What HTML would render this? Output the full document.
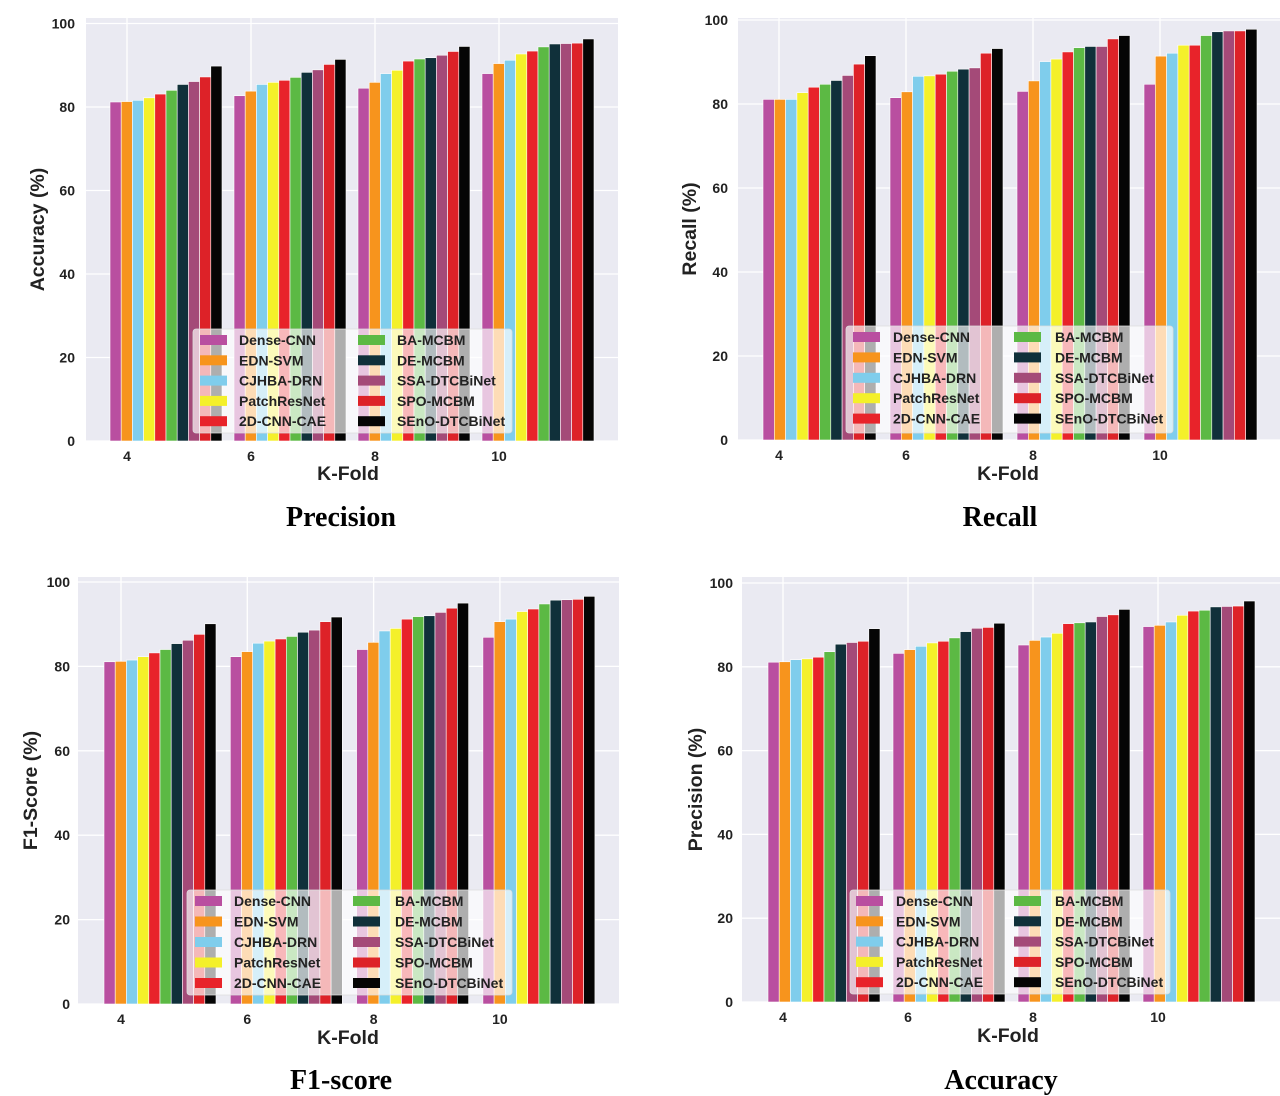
<!DOCTYPE html>
<html><head><meta charset="utf-8">
<style>
html,body{margin:0;padding:0;background:#fff;}
svg{display:block;font-family:"Liberation Sans",Arial,sans-serif;}
.tick{font-size:14px;font-weight:bold;fill:#222;}
.axl{font-size:19.5px;font-weight:bold;fill:#222;}
.ttl{font-family:"Liberation Serif","Times New Roman",serif;font-size:28px;font-weight:bold;fill:#000;}
.leg{font-size:14px;font-weight:bold;fill:#222;}
</style></head>
<body>
<svg id="root" width="1280" height="1096" viewBox="0 0 1280 1096"></svg>
<script>
const categories = ["4","6","8","10"];
const seriesNames = ["Dense-CNN","EDN-SVM","CJHBA-DRN","PatchResNet","2D-CNN-CAE","BA-MCBM","DE-MCBM","SSA-DTCBiNet","SPO-MCBM","SEnO-DTCBiNet"];
const seriesColors = ["#b94fa0","#f7941d","#7fcdec","#f4f02a","#e8232a","#5cb944","#10303a","#a44a78","#dd2228","#050505"];
const yTicks = [0,20,40,60,80,100];
// values [fold][series]
const accuracyValues = [
 [81.2,81.3,81.6,82.2,83.1,84.0,85.4,86.1,87.2,89.8],
 [82.7,83.8,85.4,85.9,86.4,87.1,88.3,88.9,90.2,91.4],
 [84.5,85.9,88.0,88.8,91.0,91.5,91.8,92.4,93.3,94.5],
 [88.0,90.4,91.2,92.7,93.4,94.4,95.1,95.2,95.3,96.3]];
const recallValues = [
 [81.1,81.1,81.1,82.7,84.0,84.7,85.6,86.8,89.5,91.5],
 [81.5,82.9,86.6,86.7,87.1,87.8,88.3,88.6,92.1,93.2],
 [83.0,85.5,90.1,90.7,92.4,93.4,93.7,93.7,95.5,96.3],
 [84.7,91.4,92.1,94.0,94.0,96.3,97.2,97.4,97.4,97.8]];
const f1Values = [
 [81.1,81.2,81.5,82.3,83.2,84.0,85.4,86.2,87.6,90.1],
 [82.3,83.5,85.5,86.0,86.5,87.1,88.1,88.6,90.6,91.7],
 [84.0,85.7,88.4,89.0,91.2,91.8,92.0,92.8,93.8,95.0],
 [86.9,90.6,91.2,93.0,93.6,94.8,95.7,95.8,95.9,96.6]];
const precisionValues = [
 [81.1,81.2,81.7,81.9,82.3,83.6,85.4,85.8,86.1,89.1],
 [83.2,84.1,84.9,85.7,86.1,86.9,88.4,89.2,89.4,90.4],
 [85.2,86.3,87.1,88.0,90.3,90.5,90.7,92.0,92.4,93.7],
 [89.6,89.9,90.7,92.3,93.3,93.5,94.3,94.4,94.5,95.7]];

const NS="http://www.w3.org/2000/svg";
const root=document.getElementById('root');
function mk(tag,attrs,parent){const e=document.createElementNS(NS,tag);for(const k in attrs)e.setAttribute(k,attrs[k]);(parent||root).appendChild(e);return e;}

const panels=[
 {id:'accuracy',data:accuracyValues,ylab:'Accuracy (%)',title:'Precision',L:86,R:618,T:18,y0:441,y100:23.5,t0:127,step:124,bw:11.2,off:17,ylx:44,tickx:75,xly:461,kx:348,ky:480,tx:341,ty:526,
  leg:{x:193,y:329,w:319,h:104,r0:340,dr:20.3,s1:200,t1:239,s2:358,t2:397}},
 {id:'recall',data:recallValues,ylab:'Recall (%)',title:'Recall',L:738,R:1280,T:18,y0:440,y100:20,t0:779,step:127,bw:11.3,off:16,ylx:696,tickx:728,xly:460,kx:1008,ky:480,tx:1000,ty:526,
  leg:{x:846,y:326,w:327,h:107,r0:337,dr:20.4,s1:853,t1:893,s2:1014,t2:1055}},
 {id:'f1',data:f1Values,ylab:'F1-Score (%)',title:'F1-score',L:78,R:619,T:577,y0:1004,y100:582,t0:121,step:126.3,bw:11.2,off:17,ylx:37,tickx:70,xly:1024,kx:348,ky:1044,tx:341,ty:1089,
  leg:{x:187,y:890,w:325,h:105,r0:901,dr:20.5,s1:195,t1:234,s2:353,t2:395}},
 {id:'precision',data:precisionValues,ylab:'Precision (%)',title:'Accuracy',L:742,R:1280,T:577,y0:1002,y100:583,t0:783,step:125,bw:11.2,off:15,ylx:702,tickx:733,xly:1022,kx:1008,ky:1042,tx:1001,ty:1089,
  leg:{x:850,y:890,w:320,h:104,r0:901,dr:20.3,s1:856,t1:896,s2:1014,t2:1055}}
];

panels.forEach(p=>{
  const g=mk('g',{});
  
  
  const yS=v=>p.y0-(p.y0-p.y100)*v/100;
  const xS=i=>p.t0+i*p.step;
  const bg=mk('rect',{x:p.L,y:p.T,width:p.R-p.L,height:p.y0-p.T,fill:'#eaeaf2'},g);
  
  
  yTicks.forEach(t=>{
    mk('line',{x1:p.L,x2:p.R,y1:yS(t),y2:yS(t),stroke:'#fff','stroke-width':1.3},g);
    const tl=mk('text',{x:p.tickx,y:yS(t)+5,'text-anchor':'end',class:'tick'},g);
    tl.textContent=t;
    
    
  });
  categories.forEach((c,i)=>{
    mk('line',{x1:xS(i),x2:xS(i),y1:p.T,y2:p.y0,stroke:'#fff','stroke-width':1.3},g);
    const tl=mk('text',{x:xS(i),y:p.xly,'text-anchor':'middle',class:'tick'},g);
    tl.textContent=c;
    
    
  });
  p.data.forEach((row,i)=>{
    row.forEach((v,s)=>{
      const x=xS(i)-p.off+s*p.bw;
      const b=mk('rect',{x:x,y:yS(v),width:p.bw,height:p.y0-yS(v),fill:seriesColors[s],stroke:'#fff','stroke-width':0.6},g);
      
      
    });
  });
  const yl=mk('text',{x:p.ylx,y:(p.T+p.y0)/2,'text-anchor':'middle',class:'axl',transform:`rotate(-90 ${p.ylx} ${(p.T+p.y0)/2})`},g);
  yl.textContent=p.ylab;
  
  
  const xl=mk('text',{x:p.kx,y:p.ky,'text-anchor':'middle',class:'axl'},g);
  xl.textContent='K-Fold';
  
  
  const tt=mk('text',{x:p.tx,y:p.ty,'text-anchor':'middle',class:'ttl'},g);
  tt.textContent=p.title;
  
  
  const L=p.leg;
  const lg=mk('g',{},g);
  
  
  mk('rect',{x:L.x,y:L.y,width:L.w,height:L.h,rx:3,fill:'rgba(255,255,255,0.68)',stroke:'#ddd','stroke-width':0.8},lg);
  seriesNames.forEach((n,s)=>{
    const col=s<5?0:1, r=s%5;
    const cy=L.r0+r*L.dr;
    const sx=col?L.s2:L.s1, tx=col?L.t2:L.t1;
    const e=mk('g',{},lg);
    
    
    mk('rect',{x:sx,y:cy-5,width:27,height:10,fill:seriesColors[s]},e);
    const t=mk('text',{x:tx,y:cy+5,class:'leg'},e);
    t.textContent=n;
  });
});
</script>
</body></html>
